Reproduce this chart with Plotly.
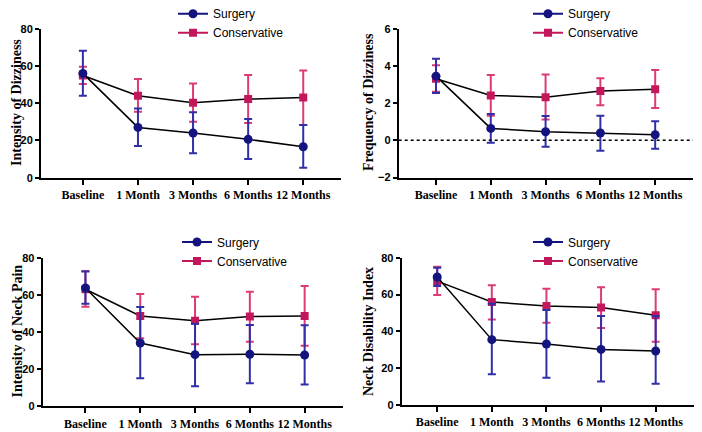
import plotly.graph_objects as go

# ---------------------------------------
# Data (means with error-bar ends)
# ---------------------------------------
timepoints = ["Baseline", "1 Month", "3 Months", "6 Months", "12 Months"]

dizz_int_surg = [56.0, 27.0, 24.0, 20.6, 16.6]
dizz_int_surg_hi = [68.2, 37.2, 35.1, 31.5, 28.3]
dizz_int_surg_lo = [44.0, 17.0, 13.1, 10.0, 5.4]
dizz_int_cons = [54.9, 44.0, 40.3, 42.2, 43.0]
dizz_int_cons_hi = [59.6, 53.0, 50.6, 55.1, 57.6]
dizz_int_cons_lo = [50.3, 35.4, 30.1, 29.4, 28.3]

dizz_freq_surg = [3.45, 0.64, 0.46, 0.39, 0.30]
dizz_freq_surg_hi = [4.39, 1.41, 1.30, 1.32, 1.03]
dizz_freq_surg_lo = [2.54, -0.13, -0.35, -0.56, -0.46]
dizz_freq_cons = [3.31, 2.41, 2.32, 2.65, 2.75]
dizz_freq_cons_hi = [4.04, 3.51, 3.54, 3.33, 3.78]
dizz_freq_cons_lo = [2.61, 1.32, 1.12, 1.89, 1.73]

neck_pain_surg = [63.7, 34.1, 27.8, 28.0, 27.6]
neck_pain_surg_hi = [72.6, 53.5, 44.5, 43.8, 43.6]
neck_pain_surg_lo = [55.2, 15.1, 10.8, 12.4, 11.7]
neck_pain_cons = [63.0, 48.6, 46.1, 48.3, 48.6]
neck_pain_cons_hi = [72.8, 60.4, 59.0, 61.7, 64.8]
neck_pain_cons_lo = [53.6, 36.6, 33.4, 34.8, 32.6]

ndi_surg = [69.5, 35.5, 33.1, 30.2, 29.3]
ndi_surg_hi = [74.6, 55.0, 51.6, 48.3, 48.3]
ndi_surg_lo = [64.6, 16.7, 14.8, 12.7, 11.6]
ndi_cons = [67.3, 55.9, 53.8, 53.0, 48.7]
ndi_cons_hi = [75.1, 65.0, 63.2, 63.9, 62.8]
ndi_cons_lo = [59.7, 46.5, 44.7, 41.8, 34.4]

SURG = "#14147f"
SURG_ERR = "#2f2fa8"
CONS = "#c2185b"
CONS_ERR = "#dc3b78"

W, H = 702, 432
OFF = 8  # page body margin

panels = [
    dict(title="Intensity of Dizziness", yr=[0, 80], dt=20,
         surg=(dizz_int_surg, dizz_int_surg_hi, dizz_int_surg_lo),
         cons=(dizz_int_cons, dizz_int_cons_hi, dizz_int_cons_lo),
         xd=[41, 340.7], yd=[177.7, 28.7], xr=[-0.76, 4.68],
         leg=(173, -0.8), tpos=(16, 103)),
    dict(title="Frequency of Dizziness", yr=[-2, 6], dt=2,
         surg=(dizz_freq_surg, dizz_freq_surg_hi, dizz_freq_surg_lo),
         cons=(dizz_freq_cons, dizz_freq_cons_hi, dizz_freq_cons_lo),
         xd=[398.7, 693], yd=[177.5, 28.7], xr=[-0.68, 4.69],
         leg=(528, -0.8), tpos=(369, 102)),
    dict(title="Intensity of Neck Pain", yr=[0, 80], dt=20,
         surg=(neck_pain_surg, neck_pain_surg_hi, neck_pain_surg_lo),
         cons=(neck_pain_cons, neck_pain_cons_hi, neck_pain_cons_lo),
         xd=[42.7, 343], yd=[406.3, 257.7], xr=[-0.78, 4.7],
         leg=(177, 227.5), tpos=(16.5, 331)),
    dict(title="Neck Disability Index", yr=[0, 80], dt=20,
         surg=(ndi_surg, ndi_surg_hi, ndi_surg_lo),
         cons=(ndi_cons, ndi_cons_hi, ndi_cons_lo),
         xd=[401.7, 695], yd=[405, 257.7], xr=[-0.65, 4.72],
         leg=(528, 227.5), tpos=(368, 331)),
]


def err(vals, hi, lo):
    return dict(type="data", symmetric=False,
                array=[h - v for h, v in zip(hi, vals)],
                arrayminus=[v - l for v, l in zip(vals, lo)])


fig = go.Figure()

for i, p in enumerate(panels, start=1):
    sfx = "" if i == 1 else str(i)
    xa, ya = "x" + sfx, "y" + sfx
    lg = "legend" + sfx

    for name, (vals, hi, lo), mcol, ecol, sym in [
        ("Conservative", p["cons"], CONS, CONS_ERR, "square"),
        ("Surgery", p["surg"], SURG, SURG_ERR, "circle"),
    ]:
        e = err(vals, hi, lo)
        e.update(color=ecol, thickness=2, width=4)
        fig.add_trace(go.Scatter(
            x=timepoints, y=vals, xaxis=xa, yaxis=ya,
            mode="lines+markers", name=name, showlegend=False,
            line=dict(color="black", width=1.5),
            marker=dict(color=mcol, size=9 if sym == "circle" else 8, symbol=sym),
            error_y=e,
        ))

    # legend entries
    for name, mcol, sym in [("Surgery", SURG, "circle"), ("Conservative", CONS, "square")]:
        fig.add_trace(go.Scatter(
            x=[None], y=[None], xaxis=xa, yaxis=ya, legend=lg,
            mode="lines+markers", name=name,
            line=dict(color=mcol, width=2),
            marker=dict(color=mcol, size=9 if sym == "circle" else 8, symbol=sym),
        ))

    lx, ly = p["leg"]
    x0, x1 = (v - OFF for v in p["xd"])
    yb, yt = (v - OFF for v in p["yd"])
    fig.update_layout({
        lg: dict(x=(lx - OFF) / W, y=1 - (ly - OFF) / H, xanchor="left", yanchor="top",
                 bgcolor="rgba(0,0,0,0)", itemwidth=30,
                 font=dict(family="Liberation Sans", size=12, color="black"),
                 tracegroupgap=0),
        "xaxis" + sfx: dict(
            domain=[x0 / W, x1 / W], anchor=ya,
            type="category", range=p["xr"], automargin=False,
            showline=True, linecolor="black", linewidth=2,
            ticks="outside", ticklen=5, tickwidth=1.5, tickcolor="black",
            showgrid=False, zeroline=False,
            tickfont=dict(family="Liberation Serif", size=12, color="black", weight="bold"),
        ),
        "yaxis" + sfx: dict(
            domain=[1 - yb / H, 1 - yt / H], anchor=xa,
            range=p["yr"], dtick=p["dt"], automargin=False,
            showline=True, linecolor="black", linewidth=2,
            ticks="outside", ticklen=4, tickwidth=1.5, tickcolor="black",
            showgrid=False, zeroline=False,
            tickfont=dict(family="Liberation Sans", size=11, color="black", weight="bold"),
        ),
    })

    # y-axis title as a rotated annotation
    tx, ty = p["tpos"]
    fig.add_annotation(
        text=p["title"], textangle=-90, showarrow=False,
        xref="paper", yref="paper", x=(tx - OFF) / W, y=1 - (ty - OFF) / H,
        xanchor="center", yanchor="middle",
        font=dict(family="Liberation Serif", size=14, color="black", weight="bold"),
    )

# dotted zero reference on the frequency panel
fig.add_shape(type="line", xref="x2 domain", yref="y2", x0=0, x1=1, y0=0, y1=0,
              line=dict(color="black", width=1.5, dash="dot"))

fig.update_layout(
    width=W, height=H,
    margin=dict(l=0, r=0, t=0, b=0, autoexpand=False),
    paper_bgcolor="white", plot_bgcolor="white",
)

fig.write_html("out.html")
